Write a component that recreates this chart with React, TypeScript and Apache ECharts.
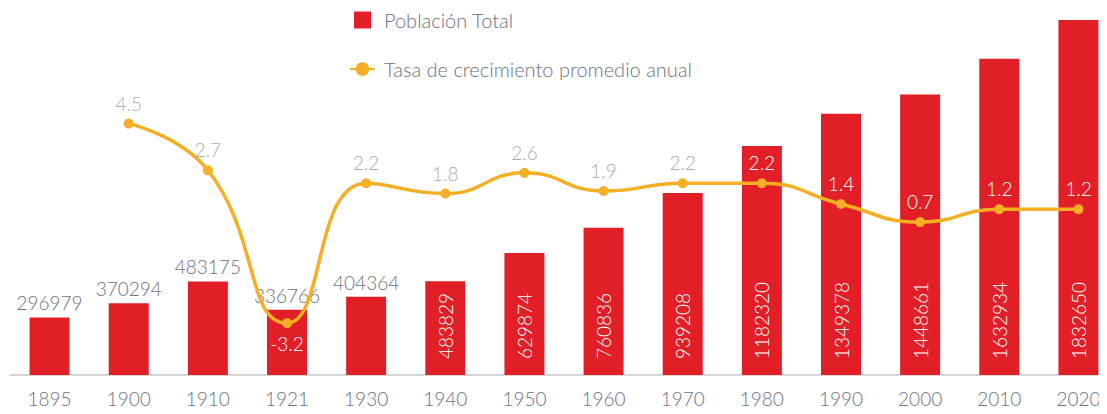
import React, { useEffect, useRef } from "react";
import * as echarts from "echarts";

const years = ["1895", "1900", "1910", "1921", "1930", "1940", "1950", "1960", "1970", "1980", "1990", "2000", "2010", "2020"];
const population = [296979, 370294, 483175, 336766, 404364, 483829, 629874, 760836, 939208, 1182320, 1349378, 1448661, 1632934, 1832650];
const growth: (number | null)[] = [null, 4.5, 2.7, -3.2, 2.2, 1.8, 2.6, 1.9, 2.2, 2.2, 1.4, 0.7, 1.2, 1.2];
const labelsInsideFrom = 5; // bars from this index show rotated inside labels
const lineWhiteFrom = 9; // line labels white from this index

const RED = "#E21F26";
const ORANGE = "#F6AE24";
const GRAY = "#6E7182";
const LIGHT = "#ABABAB";
const FONT = "Lato, 'Open Sans', sans-serif";
const FW = 300;

export default function App() {
  const ref = useRef<HTMLDivElement>(null);
  useEffect(() => {
    const chart = echarts.init(ref.current!, null, { renderer: "svg" });
    const barData = population.map((v, i) =>
      i < labelsInsideFrom
        ? { value: v, label: { show: true, position: "top", color: GRAY, fontSize: 19, fontFamily: FONT, fontWeight: FW } }
        : {
            value: v,
            label: {
              show: true,
              position: "insideBottom",
              rotate: 90,
              align: "left",
              verticalAlign: "middle",
              distance: 16,
              color: "#fff",
              fontSize: 19,
              fontFamily: FONT,
              fontWeight: FW,
            },
          }
    );
    const lineData = growth.map((v, i) => {
      if (v === null) return { value: null };
      if (v < 0) return { value: v, label: { position: "bottom", color: "#fff" } };
      return { value: v, label: { color: i >= lineWhiteFrom ? "#fff" : LIGHT } };
    });
    chart.setOption({
      animation: false,
      textStyle: { fontFamily: FONT },
      legend: {
        orient: "vertical",
        left: 344,
        top: 5,
        itemGap: 29,
        itemWidth: 25,
        itemHeight: 17,
        textStyle: { color: GRAY, fontSize: 20, fontFamily: FONT, fontWeight: FW, padding: [0, 0, 0, 4] },
        data: [
          { name: "Población Total", icon: "path://M0,0h10v10h-10z" },
          { name: "Tasa de crecimiento promedio anual" },
        ],
      },
      grid: { left: 10, top: 7, width: 1108, height: 368, containLabel: false },
      xAxis: {
        type: "category",
        data: years,
        axisLine: { lineStyle: { color: "#C8C8CC", width: 1.5 } },
        axisTick: { show: false },
        axisLabel: { color: GRAY, fontSize: 19, margin: 14, fontFamily: FONT, fontWeight: FW },
      },
      yAxis: [
        { type: "value", min: 0, max: 1900000, show: false, splitLine: { show: false } },
        { type: "value", min: -5.2, max: 9, show: false, splitLine: { show: false } },
      ],
      series: [
        {
          name: "Población Total",
          type: "bar",
          data: barData,
          barWidth: 40,
          itemStyle: { color: RED },
        },
        {
          name: "Tasa de crecimiento promedio anual",
          type: "line",
          yAxisIndex: 1,
          data: lineData,
          smooth: true,
          connectNulls: false,
          symbol: "circle",
          symbolSize: 10,
          lineStyle: { color: ORANGE, width: 3.5 },
          itemStyle: { color: ORANGE },
          label: { show: true, position: "top", fontSize: 19, distance: 6, fontFamily: FONT, fontWeight: FW },
          z: 3,
        },
      ],
    });
    return () => chart.dispose();
  }, []);
  return (
    <div style={{ width: 1107, height: 414, margin: -8, overflow: "hidden" }}>
      <div ref={ref} style={{ width: 1120, height: 414 }} />
    </div>
  );
}
